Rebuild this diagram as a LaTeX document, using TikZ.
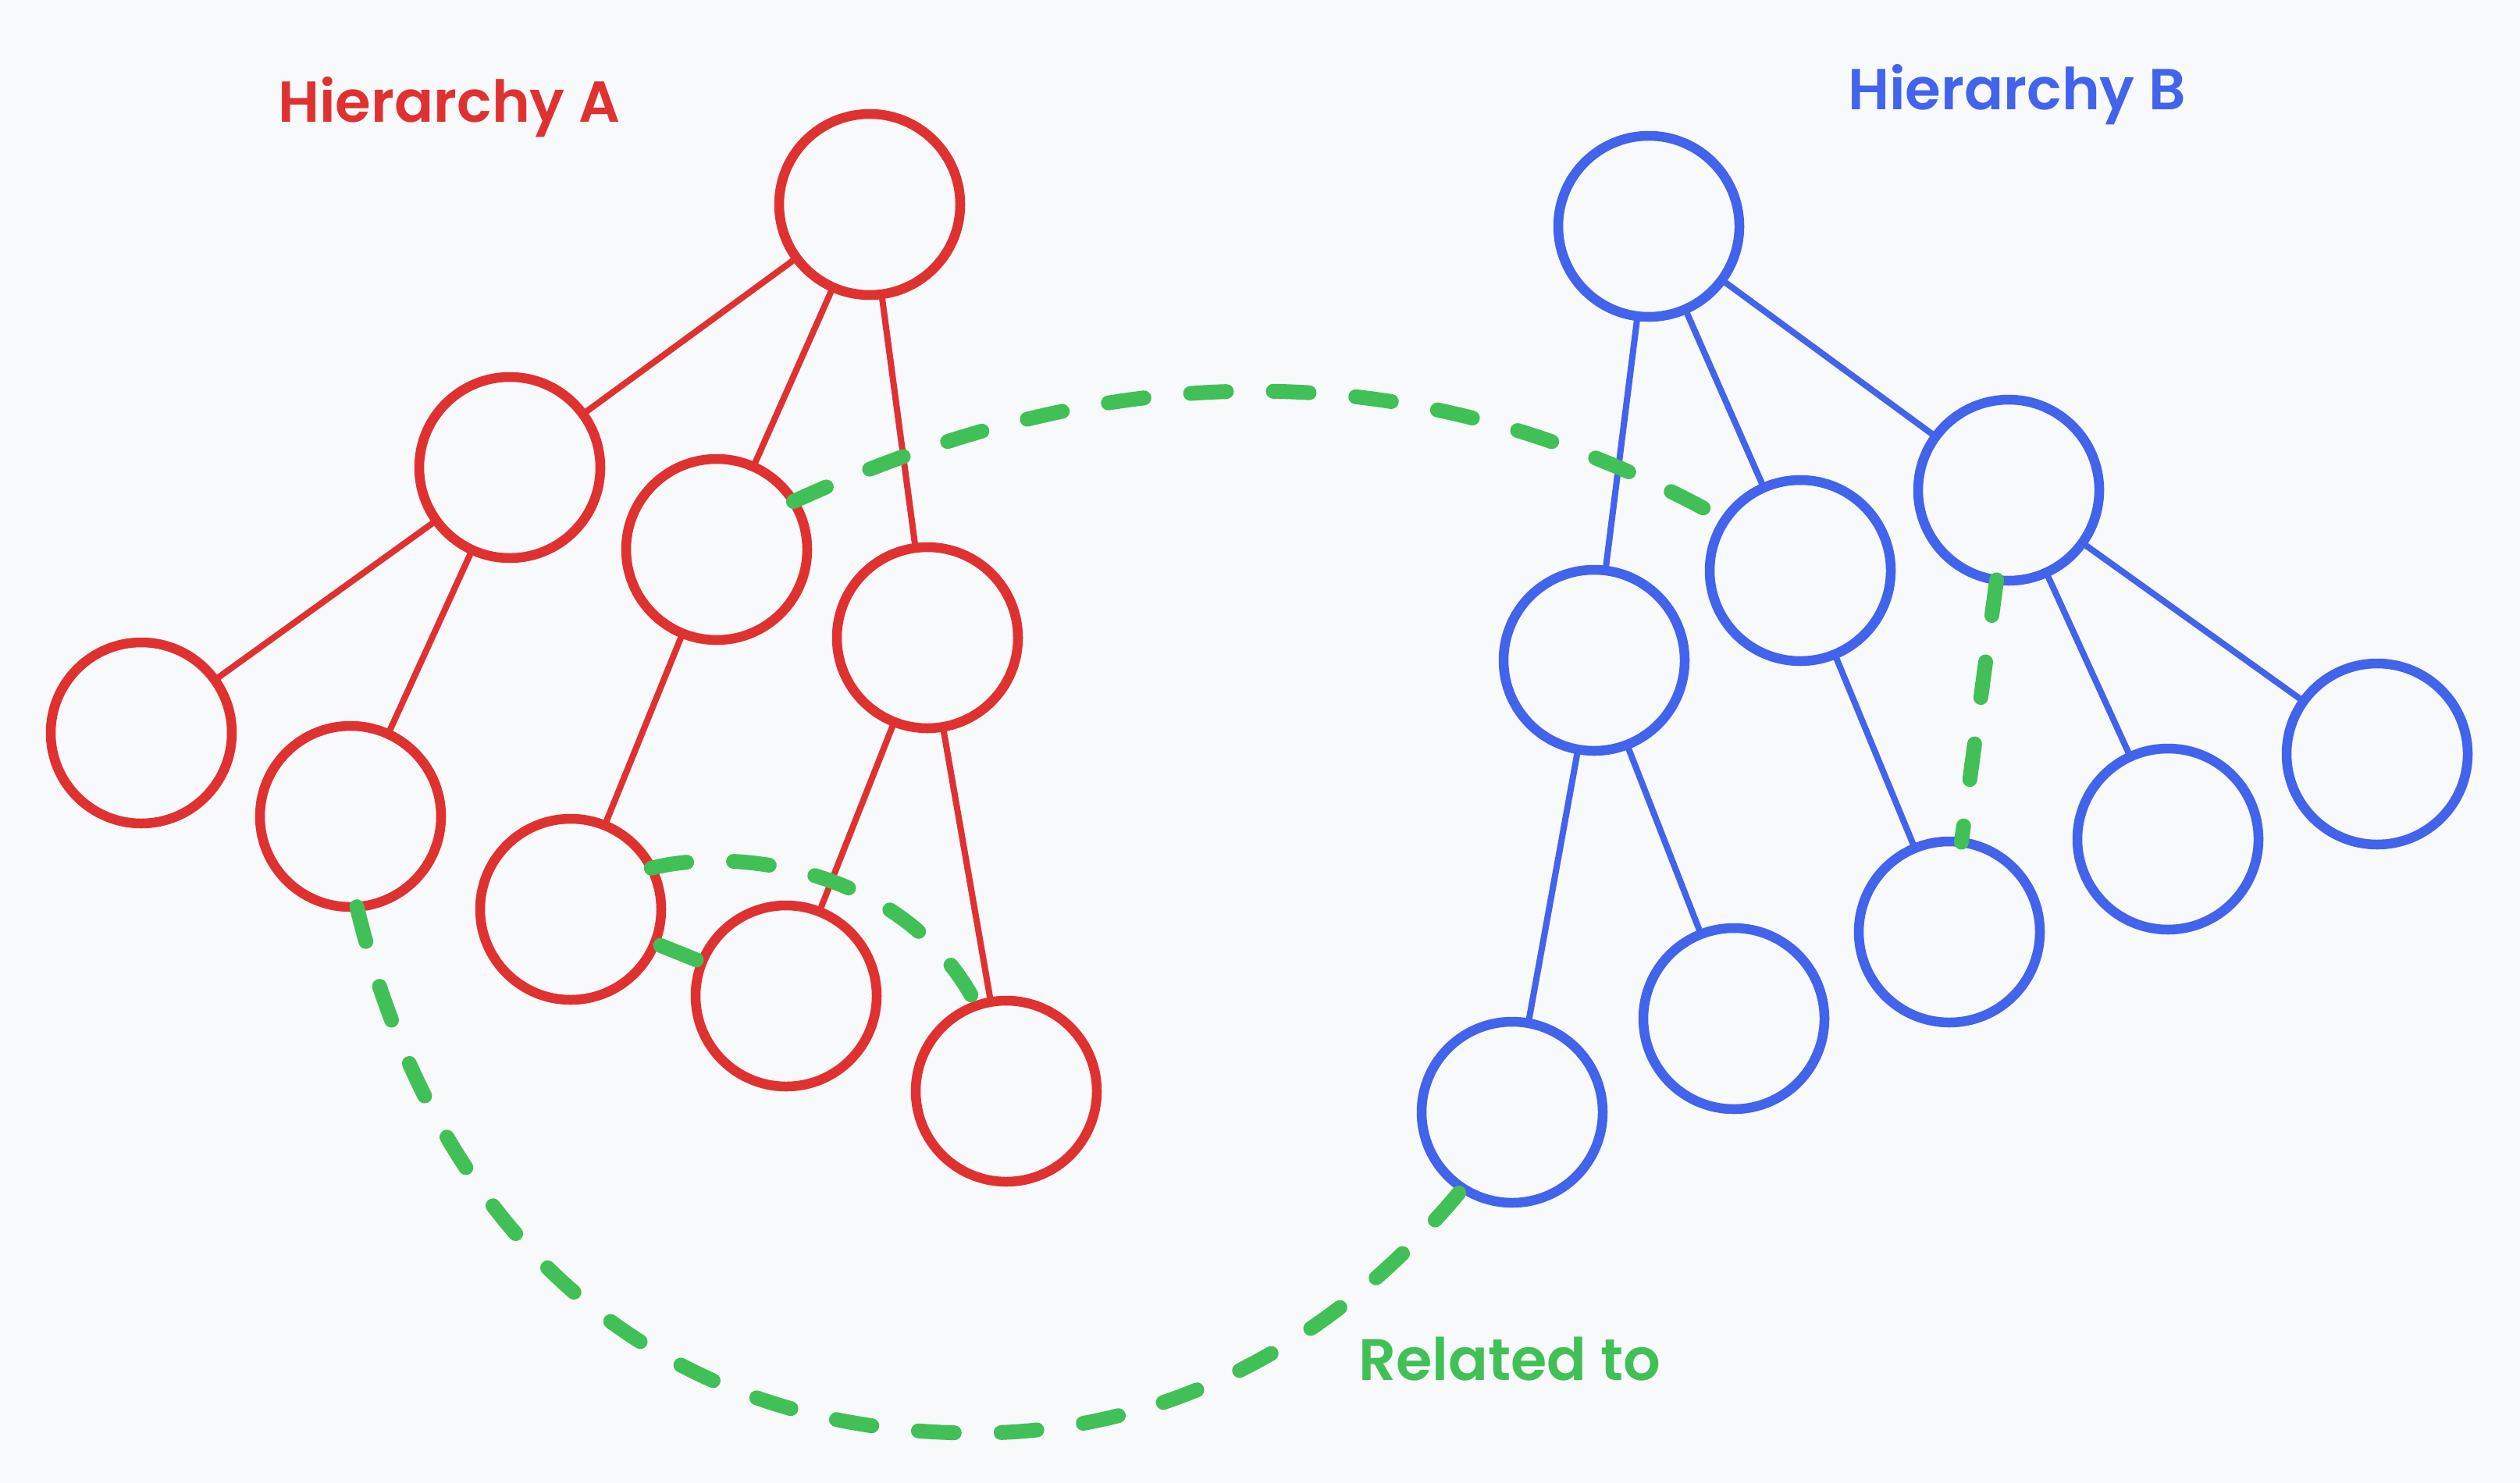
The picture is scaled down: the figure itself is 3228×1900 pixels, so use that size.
\documentclass[tikz,border=0pt]{standalone}
\usepackage{fontspec}
\newfontfamily\handfont{Poppins}[BoldFont={Poppins SemiBold}]
\definecolor{bgc}{RGB}{248,249,251}
\definecolor{hred}{RGB}{224,49,49}
\definecolor{hblue}{RGB}{66,99,235}
\definecolor{hgreen}{RGB}{64,192,87}
\begin{document}
\begin{tikzpicture}[x=1pt,y=-1pt,
  rnode/.style={circle,draw=hred,line width=12.5pt,minimum size=232pt,inner sep=0pt,outer sep=0pt},
  bnode/.style={circle,draw=hblue,line width=12.5pt,minimum size=232pt,inner sep=0pt,outer sep=0pt},
  redge/.style={draw=hred,line width=8pt},
  bedge/.style={draw=hblue,line width=8pt},
  rel/.style={draw=hgreen,line width=19pt,line cap=round,dash pattern=on 46pt off 60pt},
  relsolid/.style={draw=hgreen,line width=19pt,line cap=round,shorten <=8pt,shorten >=8pt},
  title/.style={font=\handfont\bfseries\fontsize{74}{80}\selectfont,inner sep=0pt,anchor=base west}]
\fill[bgc] (0,0) rectangle (3228,1900);
\useasboundingbox (0,0) rectangle (3228,1900);
% Hierarchy A
\node[rnode] (A0) at (1114,262) {};
\node[rnode] (A1) at (653,599) {};
\node[rnode] (A2) at (918,704) {};
\node[rnode] (A3) at (1188,817) {};
\node[rnode] (A4) at (181,939) {};
\node[rnode] (A5) at (449,1046) {};
\node[rnode] (A6) at (731,1165) {};
\node[rnode] (A7) at (1007,1276) {};
\node[rnode] (A8) at (1289,1398) {};
\draw[redge] (A0) -- (A1);
\draw[redge] (A0) -- (A2);
\draw[redge] (A0) -- (A3);
\draw[redge] (A1) -- (A4);
\draw[redge] (A1) -- (A5);
\draw[redge] (A2) -- (A6);
\draw[redge] (A3) -- (A7);
\draw[redge] (A3) -- (A8);
% Hierarchy B
\node[bnode] (B0) at (2112,290) {};
\node[bnode] (B1) at (2573,628) {};
\node[bnode] (B2) at (2042,846) {};
\node[bnode] (B3) at (2306,731) {};
\node[bnode] (B4) at (1937,1425) {};
\node[bnode] (B5) at (2221,1305) {};
\node[bnode] (B6) at (2497,1194) {};
\node[bnode] (B7) at (2777,1075) {};
\node[bnode] (B8) at (3045,966) {};
\draw[bedge] (B0) -- (B2);
\draw[bedge] (B0) -- (B3);
\draw[bedge] (B0) -- (B1);
\draw[bedge] (B2) -- (B4);
\draw[bedge] (B2) -- (B5);
\draw[bedge] (B3) -- (B6);
\draw[bedge] (B1) -- (B7);
\draw[bedge] (B1) -- (B8);
% relations
\draw[rel] (A2.32) .. controls (1420,458) and (1808,442) .. (B3.146);
\draw[rel] (B1) -- (B6);
\draw[rel] (A6.27) .. controls (940,1085) and (1160,1110) .. (A8.109);
\draw[relsolid] (A6) -- (A7);
\coordinate (low) at (1250,1836);
\draw[rel] (A5.274) .. controls (562,1597) and (850,1836) .. (low)
  .. controls (1500,1836) and (1714,1716) .. (B4.237);
% labels
\node[title,text=hred] (tA) at (356,157) {Hierarchy A};
\node[title,text=hblue] (tB) at (2367,140) {Hierarchy B};
\node[title,text=hgreen,font=\handfont\bfseries\fontsize{75}{80}\selectfont] (tR) at (1740,1768) {Related to};
\end{tikzpicture}
\end{document}
